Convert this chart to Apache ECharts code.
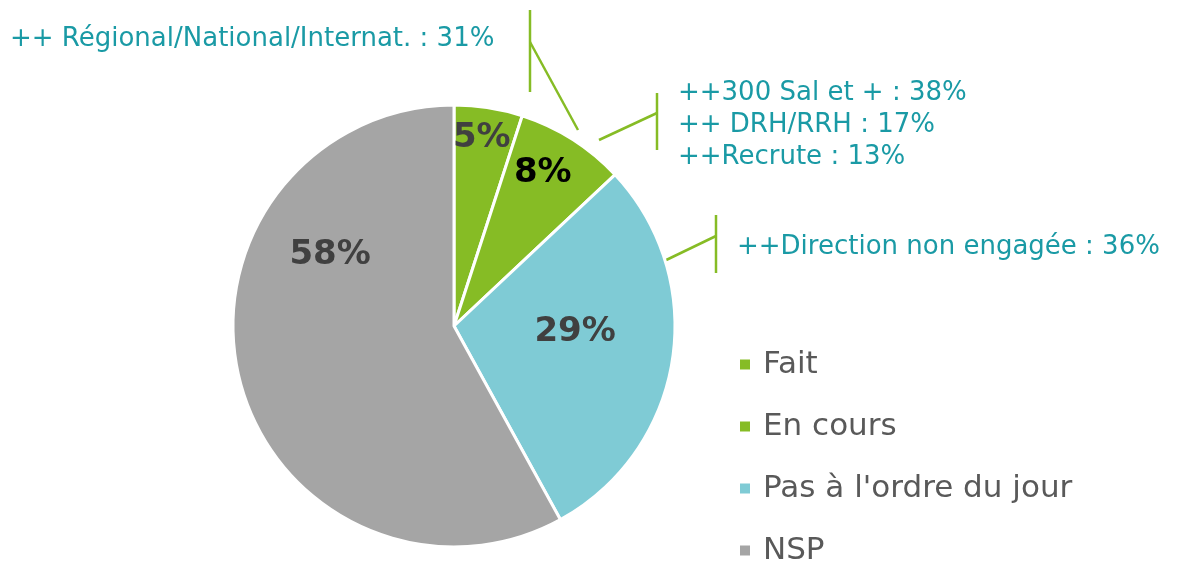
<!DOCTYPE html>
<html><head><meta charset="utf-8">
<script src="https://cdn.jsdelivr.net/npm/echarts@6/dist/echarts.min.js"></script>
<style>html,body{margin:0;padding:0;background:#fff}#c{width:1178px;height:566px}</style>
</head><body><div id="c"></div>
<script>
const categories = ["Fait", "En cours", "Pas à l'ordre du jour", "NSP"];
const values = [5, 8, 29, 58];
const colors = ["#86BC25", "#86BC25", "#7FCBD5", "#A5A5A5"];
const labelColors = ["#404040", "#000000", "#404040", "#404040"];
const labelOffsets = [[10, -76], [28, -57], [9, -12], [-14, -99]];
const callouts = [
  {text: "++ Régional/National/Internat. : 31%", x: 10, y: 39},
  {text: "++300 Sal et + : 38%\n++ DRH/RRH : 17%\n++Recrute : 13%", x: 678, y: 125},
  {text: "++Direction non engagée : 36%", x: 737, y: 247}
];
const FONT = "DejaVu Sans";
const chart = echarts.init(document.getElementById('c'));
const lineStyle = {stroke: '#86BC25', lineWidth: 2.5};
chart.setOption({
  animation: false,
  color: colors,
  legend: {
    orient: 'vertical', left: 738, top: 349, height: 300, padding: 0,
    icon: 'rect', itemWidth: 12, itemHeight: 12, itemGap: 31,
    textStyle: {fontFamily: FONT, fontSize: 31, color: '#595959', padding: [0,0,0,7]},
    data: categories
  },
  series: [{
    type: 'pie', center: [454, 326], radius: 221, startAngle: 90, clockwise: true,
    itemStyle: {borderColor: '#fff', borderWidth: 3},
    label: {position: 'inside', fontFamily: FONT, fontWeight: 'bold', fontSize: 34},
    labelLine: {show: false},
    data: categories.map((c, i) => ({
      name: c, value: values[i],
      itemStyle: {color: colors[i]},
      label: {formatter: values[i] + '%', color: labelColors[i], offset: labelOffsets[i]}
    }))
  }],
  graphic: [
    ...callouts.map(c => ({type: 'text', style: {
      x: c.x, y: c.y,
      text: c.text, fill: '#1A9AA5', fontFamily: FONT, fontSize: 26, lineHeight: 32,
      textVerticalAlign: 'middle', verticalAlign: 'middle'}})),
    {type: 'line', shape: {x1: 530, y1: 10, x2: 530, y2: 92}, style: lineStyle},
    {type: 'line', shape: {x1: 530, y1: 42, x2: 578, y2: 130}, style: lineStyle},
    {type: 'line', shape: {x1: 657, y1: 93, x2: 657, y2: 150}, style: lineStyle},
    {type: 'line', shape: {x1: 657, y1: 113, x2: 599, y2: 140}, style: lineStyle},
    {type: 'line', shape: {x1: 716, y1: 215, x2: 716, y2: 273}, style: lineStyle},
    {type: 'line', shape: {x1: 716, y1: 236, x2: 660, y2: 263}, style: lineStyle}
  ]
});
</script></body></html>
